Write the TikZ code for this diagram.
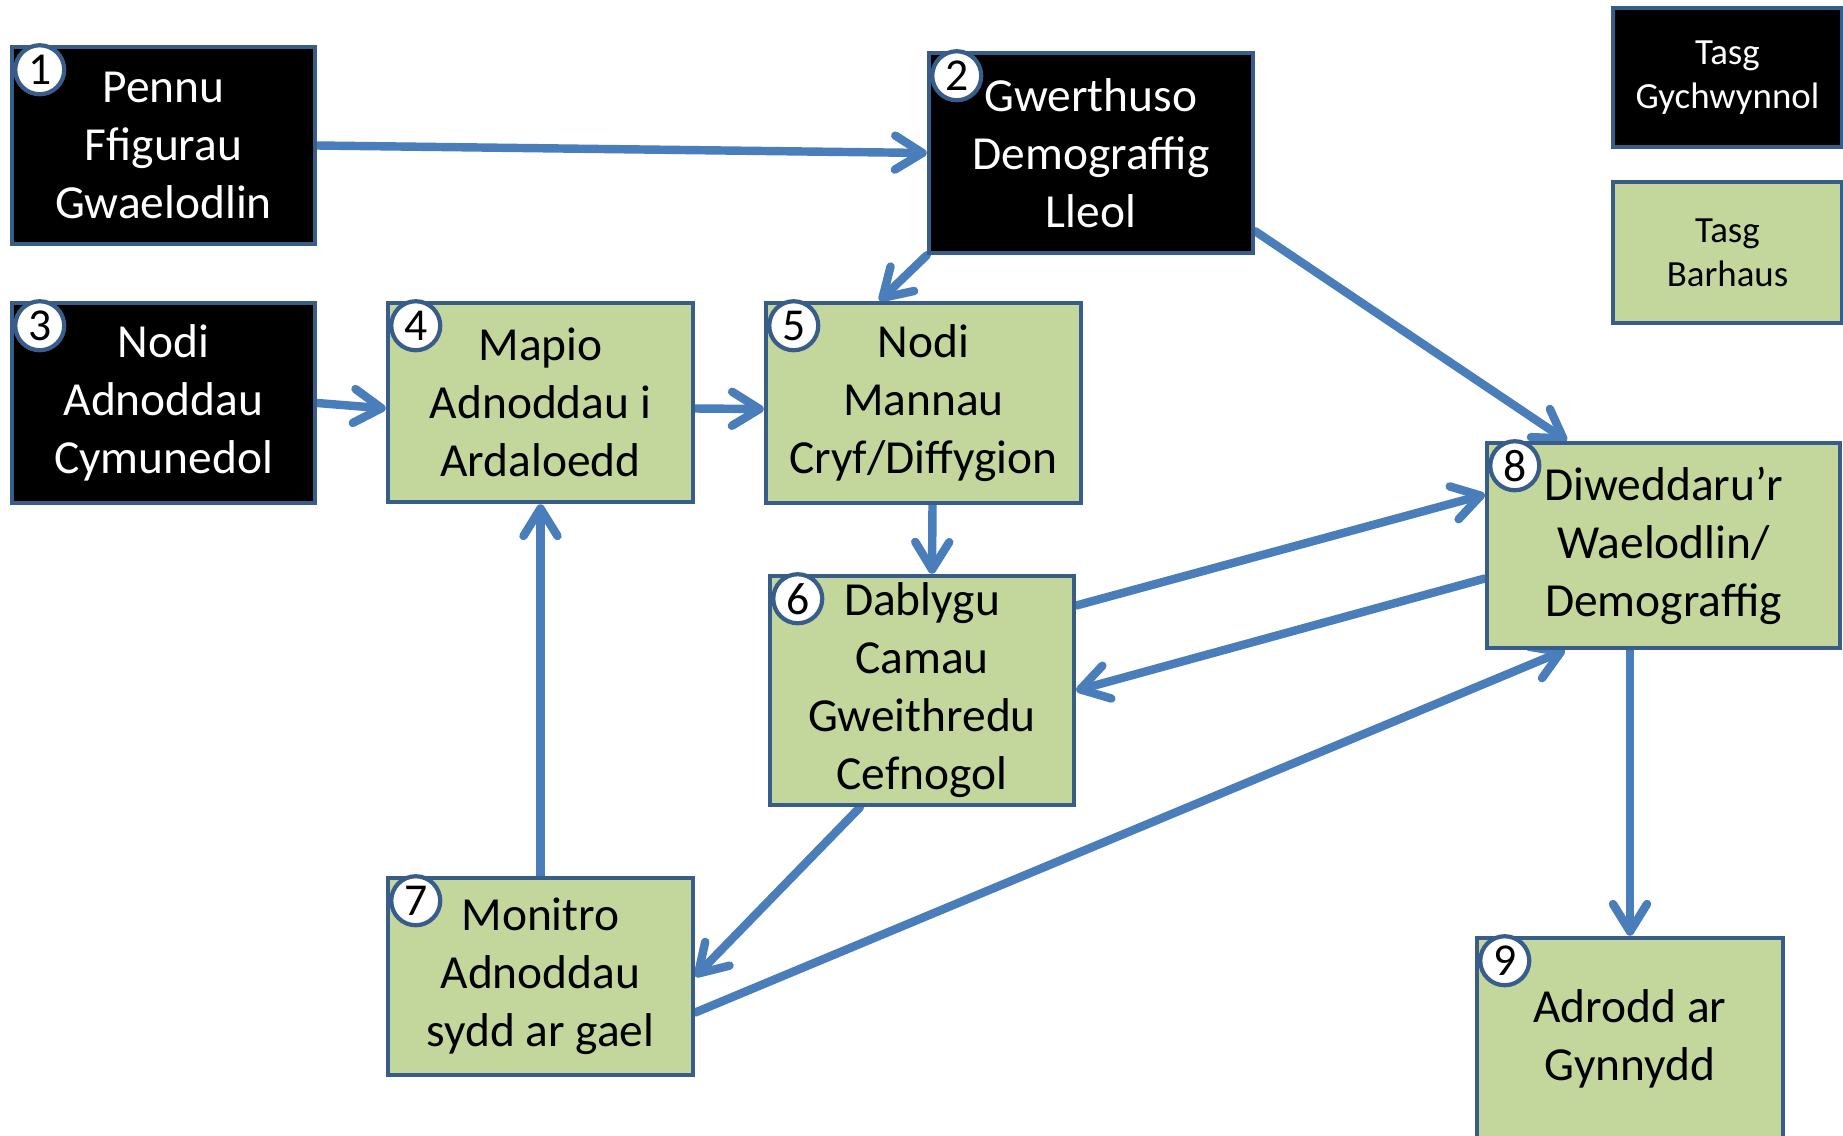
\documentclass[tikz,border=0pt]{standalone}
\usepackage{fontspec}
\setmainfont{Carlito}
\usetikzlibrary{calc,arrows.meta,backgrounds}
\definecolor{boxgreen}{HTML}{C3D69B}
\definecolor{boxedge}{HTML}{385D8A}
\definecolor{arrowblue}{HTML}{4A7EBB}

\tikzset{
  task/.style={draw=boxedge, line width=2.6pt, inner sep=0pt, align=center,
    font=\fontsize{27}{33}\selectfont},
  initial/.style={task, fill=black, text=white},
  ongoing/.style={task, fill=boxgreen, text=black},
  legendbox/.style={task, font=\fontsize{21}{25}\selectfont},
  num/.style={circle, draw=boxedge, line width=2.4pt, fill=white, inner sep=0pt,
    minimum size=0.98cm, font=\fontsize{26}{26}\selectfont},
  arr/.style={draw=arrowblue, line width=4.8pt, line cap=round,
    -{Straight Barb[length=0.55cm,width=0.68cm,line cap=round,line join=round]}}
}

\begin{document}
\begin{tikzpicture}[x=0.02cm, y=-0.02cm]
  \useasboundingbox (0,0) rectangle (1843,1136);

  % Tasks
  \node[initial, minimum width=6.06cm, minimum height=3.94cm] (b1) at (163.5,145.5) {Pennu\\Ffigurau\\Gwaelodlin};
  \node[initial, minimum width=6.48cm, minimum height=4.0cm] (b2) at (1091,153) {Gwerthuso\\Demograffig\\Lleol};
  \node[initial, minimum width=6.06cm, minimum height=4.0cm] (b3) at (163.5,403) {Nodi\\Adnoddau\\Cymunedol};
  \node[ongoing, minimum width=6.1cm, minimum height=3.98cm] (b4) at (540.5,402.5) {Mapio\\Adnoddau i\\Ardaloedd};
  \node[ongoing, minimum width=6.3cm, minimum height=4.0cm] (b5) at (923.5,403) {Nodi\\Mannau\\Cryf/Diffygion};
  \node[ongoing, minimum width=6.08cm, minimum height=4.58cm] (b6) at (922,690.5) {Dablygu\\Camau\\Gweithredu\\Cefnogol};
  \node[ongoing, minimum width=6.1cm, minimum height=3.94cm] (b7) at (540.5,976.5) {Monitro\\Adnoddau\\sydd ar gael};
  \node[ongoing, minimum width=7.06cm, minimum height=4.1cm] (b8) at (1663.5,545.5) {Diweddaru’r\\Waelodlin/\\Demograffig};
  \node[ongoing, minimum width=6.12cm, minimum height=4.04cm] (b9) at (1630,1039) {Adrodd ar\\Gynnydd};

  % Numbers
  \foreach \i in {1,...,9}
    \node[num] (n\i) at ($(b\i.north west)+(30,25)$) {\i};

  % Legend
  \node[legendbox, fill=black, text=white, minimum width=4.58cm, minimum height=2.78cm] (l1) at (1727.5,77.5) {Tasg\\Gychwynnol};
  \node[legendbox, fill=boxgreen, minimum width=4.58cm, minimum height=2.82cm] (l2) at (1727.5,252.5) {Tasg\\Barhaus};

  % Arrows
  \begin{scope}[on background layer]
    \draw[arr] (b1.east) -- (b2.west);
    \draw[arr] (b2.south west) -- ($(b5.north)+(-44,0)$);
    \draw[arr] ($(b2.south east)+(0,-24)$) -- ($(b8.north west)+(82,0)$);
    \draw[arr] (b3.east) -- ($(b4.west)+(0,6)$);
    \draw[arr] ($(b4.east)+(0,6)$) -- ($(b5.west)+(0,6)$);
    \draw[arr] ($(b5.south)+(9,0)$) -- ($(b6.north)+(10,0)$);
    \draw[arr] ($(b6.east)+(0,-85)$) -- ($(b8.west)+(0,-51)$);
    \draw[arr] ($(b8.west)+(0,33)$) -- (b6.east);
    \draw[arr] ($(b6.south)+(-62,0)$) -- (b7.east);
    \draw[arr] ($(b7.east)+(0,36)$) -- ($(b8.south west)+(80,0)$);
    \draw[arr] (b7.north) -- (b4.south);
    \draw[arr] (b8.south -| b9.north) -- (b9.north);
  \end{scope}
\end{tikzpicture}
\end{document}
